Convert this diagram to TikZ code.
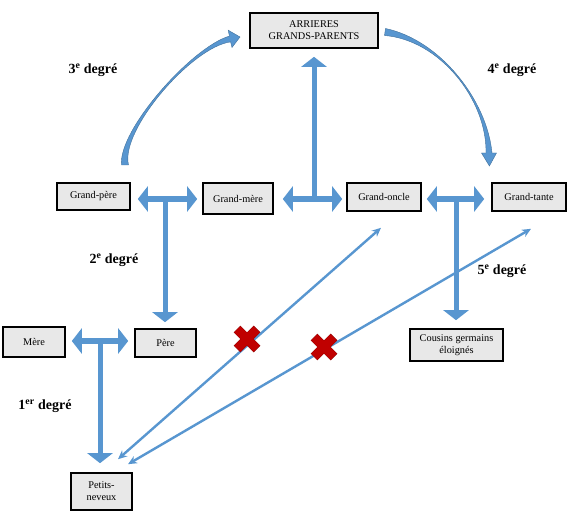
\documentclass[tikz,border=0pt]{standalone}
\usepackage{fontspec}
\setmainfont{Liberation Serif}
\usetikzlibrary{arrows.meta,calc}
\definecolor{arrowblue}{RGB}{88,150,208}
\definecolor{arrowedge}{RGB}{65,113,156}
\definecolor{boxgray}{RGB}{232,232,232}
\definecolor{crossred}{RGB}{192,0,0}
\definecolor{crossedge}{RGB}{140,0,0}
\begin{document}
\begin{tikzpicture}[x=1pt,y=-1pt,
  famille/.style={draw=black, line width=1.6pt, fill=boxgray, inner sep=0pt, align=center,
    font=\fontsize{10.3}{12}\selectfont},
  degre/.style={font=\fontsize{14}{16}\selectfont\bfseries, inner sep=0pt},
  blockarrow/.style={draw=arrowblue, line width=5.5pt,
    {Triangle[width=25pt,length=10pt]}-{Triangle[width=25pt,length=10pt]}},
  stemarrow/.style={draw=arrowblue, line width=5pt, -{Triangle[width=25pt,length=10pt]}},
  thinarrow/.style={draw=arrowblue, line width=2.4pt,
    {Stealth[length=9pt,width=8pt]}-{Stealth[length=9pt,width=8pt]}},
  curvearrow/.style={fill=arrowblue, draw=arrowedge, line width=0.4pt},
  crossline/.style={draw=crossred, line width=8.5pt},
  crossback/.style={draw=crossedge, line width=9.5pt}]
\useasboundingbox (0,0) rectangle (569,518);

% boxes
\node[famille, minimum width=128pt, minimum height=35pt] (agp) at (314,30.5) {ARRIERES\\GRANDS-PARENTS};
\node[famille, minimum width=73pt, minimum height=27pt] (gpere) at (93.5,196.5) {Grand-père};
\node[famille, minimum width=70pt, minimum height=31pt] (gmere) at (238,198.5) {Grand-mère};
\node[famille, minimum width=74pt, minimum height=28pt] (goncle) at (384,197) {Grand-oncle};
\node[famille, minimum width=74pt, minimum height=28pt] (gtante) at (529,197) {Grand-tante};
\node[famille, minimum width=62pt, minimum height=30pt] (mere) at (34,342) {Mère};
\node[famille, minimum width=61pt, minimum height=28pt] (pere) at (165.5,343) {Père};
\node[famille, minimum width=93pt, minimum height=32pt] (cousins) at (456.5,345) {Cousins germains\\éloignés};
\node[famille, minimum width=61pt, minimum height=37pt] (petits) at (101.5,491.5) {Petits-\\neveux};

% junctions
\coordinate (j1) at (165,199);
\coordinate (j2) at (314,199);
\coordinate (j3) at (456,199);
\coordinate (j4) at (100,341);

% double block arrows
\draw[blockarrow, shorten <=7pt, shorten >=5pt] (gpere.east |- j1) -- (gmere.west |- j1);
\draw[blockarrow, shorten <=9pt, shorten >=4pt] (gmere.east |- j2) -- (goncle.west |- j2);
\draw[blockarrow, shorten <=5pt, shorten >=7pt] (goncle.east |- j3) -- (gtante.west |- j3);
\draw[blockarrow, shorten <=6pt, shorten >=6pt] (mere.east |- j4) -- (pere.west |- j4);

% stems
\draw[stemarrow, shorten >=6pt] (j1) -- (j1 |- pere.north);
\draw[stemarrow, shorten >=8pt] (j2) -- (j2 |- agp.south);
\draw[stemarrow, shorten >=8pt] (j3) -- (j3 |- cousins.north);
\draw[stemarrow, shorten >=9pt] (j4) -- (j4 |- petits.north);

% thin arrows
\draw[thinarrow] ($(petits.north)+(16.5,-13)$) -- ($(goncle.south)+(-3,16)$);
\draw[thinarrow] ($(petits.north)+(26.5,-8)$) -- ($(gtante.south)+(2,17)$);

% red crosses
\coordinate (x1) at (247,339);
\coordinate (x2) at (324,347);
\foreach \c in {x1,x2}{
  \draw[crossback] ($(\c)+(-10,-10)$) -- ($(\c)+(10,10)$) ($(\c)+(-10,10)$) -- ($(\c)+(10,-10)$);
  \draw[crossline] ($(\c)+(-9.7,-9.7)$) -- ($(\c)+(9.7,9.7)$) ($(\c)+(-9.7,9.7)$) -- ($(\c)+(9.7,-9.7)$);
}

% curved arrows
\path[curvearrow] (121.5,165) .. controls (118,130) and (192,47) .. (229.4,36.1)
  -- (228.2,30.2) -- (240,37) -- (232,47.5) -- (230.6,41.9)
  .. controls (192,47) and (120,130) .. (128.5,165) -- cycle;
\path[curvearrow] (385.5,28.5) .. controls (440,40) and (487,100) .. (492,153)
  -- (496.5,153) -- (489.4,166) -- (481.5,153) -- (486,153)
  .. controls (487,100) and (440,40) .. (384.5,35.5) -- cycle;

% labels
\node[degre] (l3) at (93,70) {3\textsuperscript{e} degré};
\node[degre] (l4) at (512,70) {4\textsuperscript{e} degré};
\node[degre] (l2) at (114,260) {2\textsuperscript{e} degré};
\node[degre] (l5) at (502,271) {5\textsuperscript{e} degré};
\node[degre] (l1) at (45,406) {1\textsuperscript{er} degré};
\end{tikzpicture}
\end{document}
